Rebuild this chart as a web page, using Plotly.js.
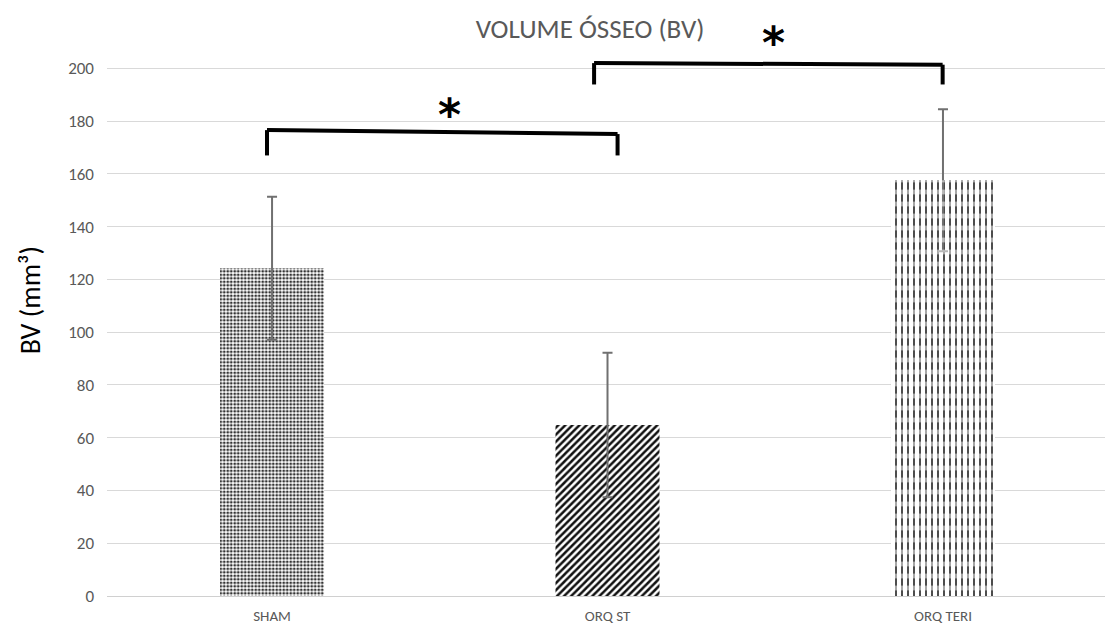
<!DOCTYPE html>
<html>
<head>
<meta charset="utf-8">
<script src="https://cdn.plot.ly/plotly-3.0.1.min.js"></script>
<style>html,body{margin:0;padding:0;background:#fff;}#chart{width:1105px;height:631px;}</style>
</head>
<body>
<div id="chart"></div>
<script>
const categories = ["SHAM", "ORQ ST", "ORQ TERI"];
const bvMeans = [124.2, 64.8, 157.6];
const bvErrors = [27.1, 27.4, 26.9];
const yTicks = [0, 20, 40, 60, 80, 100, 120, 140, 160, 180, 200];

const FONT = "Carlito, Lato, 'Open Sans', sans-serif";
const xIdx = categories.map((c, i) => i);

const barTrace = {
  type: "bar",
  x: xIdx,
  y: bvMeans,
  width: 0.31,
  marker: {
    color: "#ffffff",
    line: {width: 0},
    pattern: {
      shape: [".", "/", "|"],
      size: [3.5, 5, 6],
      solidity: [0.5, 0.5, 0.25],
      fgcolor: ["#333333", "#111111", "#111111"],
      bgcolor: "#ffffff",
      fillmode: "replace"
    }
  },
  error_y: {
    type: "data",
    array: bvErrors,
    visible: true,
    color: "#707070",
    thickness: 2,
    width: 5
  },
  hoverinfo: "skip"
};

// white horizontal breaks to turn the vertical lines of ORQ TERI into dashes
const dashBreak = {
  type: "bar",
  x: [xIdx[2]],
  y: [bvMeans[2]],
  width: 0.31,
  marker: {
    color: "rgba(0,0,0,0)",
    line: {width: 0},
    pattern: {shape: "-", size: 12, solidity: 0.4, fgcolor: "#ffffff", bgcolor: "rgba(0,0,0,0)", fillmode: "overlay"}
  },
  hoverinfo: "skip"
};

const bracketLine = {color: "#000000", width: 4};
function bracket(x0, x1, yTopL, yTopR, yBot) {
  return [
    {type: "line", xref: "x", yref: "y", x0: x0, x1: x0, y0: yBot, y1: yTopL, line: bracketLine},
    {type: "line", xref: "x", yref: "y", x0: x0, x1: x1, y0: yTopL, y1: yTopR, line: bracketLine},
    {type: "line", xref: "x", yref: "y", x0: x1, x1: x1, y0: yTopR, y1: yBot, line: bracketLine}
  ];
}

const shapes = [].concat(
  bracket(-0.015, 1.030, 176.6, 175.1, 167.0),
  bracket(0.960, 1.999, 202.0, 201.4, 193.9)
);

const layout = {
  width: 1105,
  height: 631,
  margin: {l: 107, r: 0, t: 42, b: 35, pad: 0},
  paper_bgcolor: "#ffffff",
  plot_bgcolor: "#ffffff",
  showlegend: false,
  barmode: "overlay",
  font: {family: FONT, color: "#595959"},
  title: {
    text: "VOLUME ÓSSEO (BV)",
    font: {family: FONT, size: 27, color: "#595959"},
    x: 0.534, xref: "container", xanchor: "center",
    y: 0.955, yref: "container", yanchor: "middle"
  },
  xaxis: {
    range: [-0.492, 2.483],
    tickmode: "array",
    tickvals: xIdx,
    ticktext: categories,
    tickfont: {family: FONT, size: 15, color: "#595959"},
    showgrid: false,
    zeroline: false,
    showline: false,
    ticks: "",
    ticklabelstandoff: 9
  },
  yaxis: {
    range: [0, 210],
    tickmode: "array",
    tickvals: yTicks,
    ticktext: yTicks.map(String),
    tickfont: {family: FONT, size: 17, color: "#595959"},
    showgrid: true,
    gridcolor: "#d9d9d9",
    gridwidth: 1,
    zeroline: true,
    zerolinecolor: "#d0d0d0",
    zerolinewidth: 1,
    showline: false,
    ticks: "",
    ticklabelstandoff: 12
  },
  shapes: shapes,
  annotations: [
    {xref: "paper", yref: "paper", x: -0.077, y: 0.534, text: "BV (mm³)", textangle: -90, showarrow: false,
     font: {family: FONT, size: 28, color: "#000000"}, xanchor: "center", yanchor: "middle"},
    {xref: "x", yref: "y", x: 0.528, y: 182.7, text: "<b>*</b>", showarrow: false,
     font: {family: "DejaVu Sans", size: 44, color: "#000000"}, xanchor: "center", yanchor: "middle"},
    {xref: "x", yref: "paper", x: 1.494, y: 1.0, text: "<b>*</b>", showarrow: false,
     font: {family: "DejaVu Sans", size: 44, color: "#000000"}, xanchor: "center", yanchor: "middle"}
  ]
};

Plotly.newPlot("chart", [barTrace, dashBreak], layout, {staticPlot: true, displayModeBar: false});
</script>
</body>
</html>
